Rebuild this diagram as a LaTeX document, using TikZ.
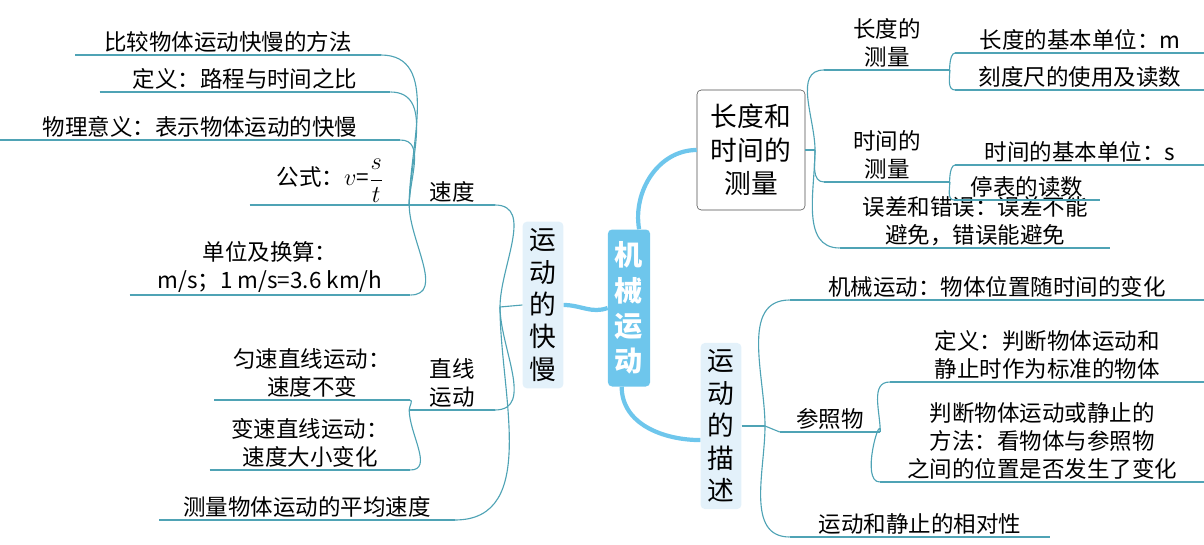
\documentclass[tikz,border=0pt]{standalone}
\usepackage{fontspec}
\setmainfont{Noto Sans CJK SC}
\usetikzlibrary{positioning}
\definecolor{lineblue}{HTML}{4FA3B5}
\definecolor{mainblue}{HTML}{6EC6EC}
\definecolor{paleblue}{HTML}{E3F1FA}
\tikzset{
  leaf/.style={anchor=south,inner sep=1.5pt,align=center,minimum width=#1*0.025cm,font=\fontsize{16}{20}\selectfont},
  vbox/.style={rounded corners=3pt,fill=paleblue,inner sep=5pt,align=center,font=\fontsize{19}{23}\selectfont},
  link/.style={draw=lineblue,line width=0.8pt},
  trunk/.style={draw=mainblue,line width=3pt}
}
\newcommand{\uline}[1]{\draw[link] (#1.south west) -- (#1.south east);}
\begin{document}
\begin{tikzpicture}[x=0.025cm,y=-0.025cm]
\useasboundingbox (0,0) rectangle (1204,545);
% centre
\node[vbox,fill=mainblue,text=white,font=\fontsize{20}{25}\selectfont\bfseries,minimum height=157*0.025cm] (root) at (629,308) {机\\械\\运\\动};
\node[vbox,minimum height=153*0.025cm] (speed) at (543,305) {运\\动\\的\\快\\慢};
\node[vbox,minimum height=148*0.025cm] (desc) at (721,426) {运\\动\\的\\描\\述};
\node[draw=black!70,rounded corners=3pt,align=center,inner sep=5pt,minimum width=108*0.025cm,minimum height=120*0.025cm,font=\fontsize{19}{24}\selectfont] (meas) at (751,150) {长度和\\时间的\\测量};
\draw[trunk] (speed.east) to[out=0,in=200] (root.west);
\draw[trunk] ([xshift=-8pt]root.north east) to[out=100,in=180] (meas.west);
\draw[trunk] ([xshift=10pt]root.south west) to[out=-90,in=180] ([yshift=-10pt]desc.west);

% left side
\node[leaf=85] (sd) at (452,205) {速度};
\node[leaf=305] (m1) at (228,55) {比较物体运动快慢的方法};
\node[leaf=290] (m2) at (245,92) {定义：路程与时间之比};
\node[leaf=400] (m3) at (200,140) {物理意义：表示物体运动的快慢};
\node[leaf=160] (m4) at (330,205) {公式：$v$=$\displaystyle\frac{s}{t}$};
\node[leaf=280] (m5) at (270,295) {单位及换算：\\m/s；1 m/s=3.6 km/h};
\node[leaf=85] (zx) at (452,410) {直线\\运动};
\node[leaf=195] (z1) at (312,400) {匀速直线运动：\\速度不变};
\node[leaf=200] (z2) at (310,470) {变速直线运动：\\速度大小变化};
\node[leaf=295] (avg) at (307,520) {测量物体运动的平均速度};
\foreach \n in {sd,m1,m2,m3,m4,m5,zx,z1,z2,avg} {\uline{\n}}
\coordinate (lk) at (500,307);
\draw[link] (speed.west) -- (lk);
\draw[link] (lk) to[out=90,in=0] (sd.south east);
\draw[link] (lk) to[out=-90,in=0] (zx.south east);
\draw[link] (lk) to[out=-90,in=0] (avg.south east);
\foreach \n in {m1,m2,m3} {\draw[link] (sd.south west) to[out=90,in=0] (\n.south east);}
\draw[link] (sd.south west) to[out=-90,in=0] (m5.south east);
\draw[link] (zx.south west) to[out=90,in=0] (z1.south east);
\draw[link] (zx.south west) to[out=-90,in=0] (z2.south east);

% right side: measurement
\node[leaf=125] (len) at (887,70) {长度的\\测量};
\node[leaf=125] (tim) at (887,182) {时间的\\测量};
\node[leaf=270] (err) at (975,248) {误差和错误：误差不能\\避免，错误能避免};
\node[leaf=249] (la) at (1080,53) {长度的基本单位：m};
\node[leaf=249] (lb) at (1080,90) {刻度尺的使用及读数};
\node[leaf=249] (ta) at (1080,165) {时间的基本单位：s};
\node[leaf=145] (tb) at (1027,200) {停表的读数};
\foreach \n in {len,tim,err,la,lb,ta,tb} {\uline{\n}}
\coordinate (rk) at (815,150);
\draw[link] (meas.east) -- (rk);
\draw[link] (rk) to[out=90,in=180] (len.south west);
\draw[link] (rk) to[out=-90,in=180] (tim.south west);
\draw[link] (rk) to[out=-90,in=180] (err.south west);
\draw[link] (len.south east) to[out=-90,in=180] (la.south west);
\draw[link] (len.south east) to[out=-90,in=180] (lb.south west);
\draw[link] (tim.south east) to[out=-90,in=180] (ta.south west);
\draw[link] (tim.south east) to[out=-90,in=180] (tb.south west);

% right side: description
\node[leaf=414] (mech) at (997,300) {机械运动：物体位置随时间的变化};
\node[leaf=100] (ref) at (830,432) {参照物};
\node[leaf=260] (rel) at (920,537) {运动和静止的相对性};
\node[leaf=314] (c1) at (1047,382) {定义：判断物体运动和\\静止时作为标准的物体};
\node[leaf=324] (c2) at (1042,482) {判断物体运动或静止的\\方法：看物体与参照物\\之间的位置是否发生了变化};
\foreach \n in {mech,ref,rel,c1,c2} {\uline{\n}}
\coordinate (dk) at (765,426);
\draw[link] (desc.east) -- (dk);
\draw[link] (dk) to[out=90,in=180] (mech.south west);
\draw[link] (dk) -- (ref.south west);
\draw[link] (dk) to[out=-90,in=180] (rel.south west);
\draw[link] (ref.south east) to[out=90,in=180] (c1.south west);
\draw[link] (ref.south east) to[out=90,in=180] (c2.south west);
\end{tikzpicture}
\end{document}
